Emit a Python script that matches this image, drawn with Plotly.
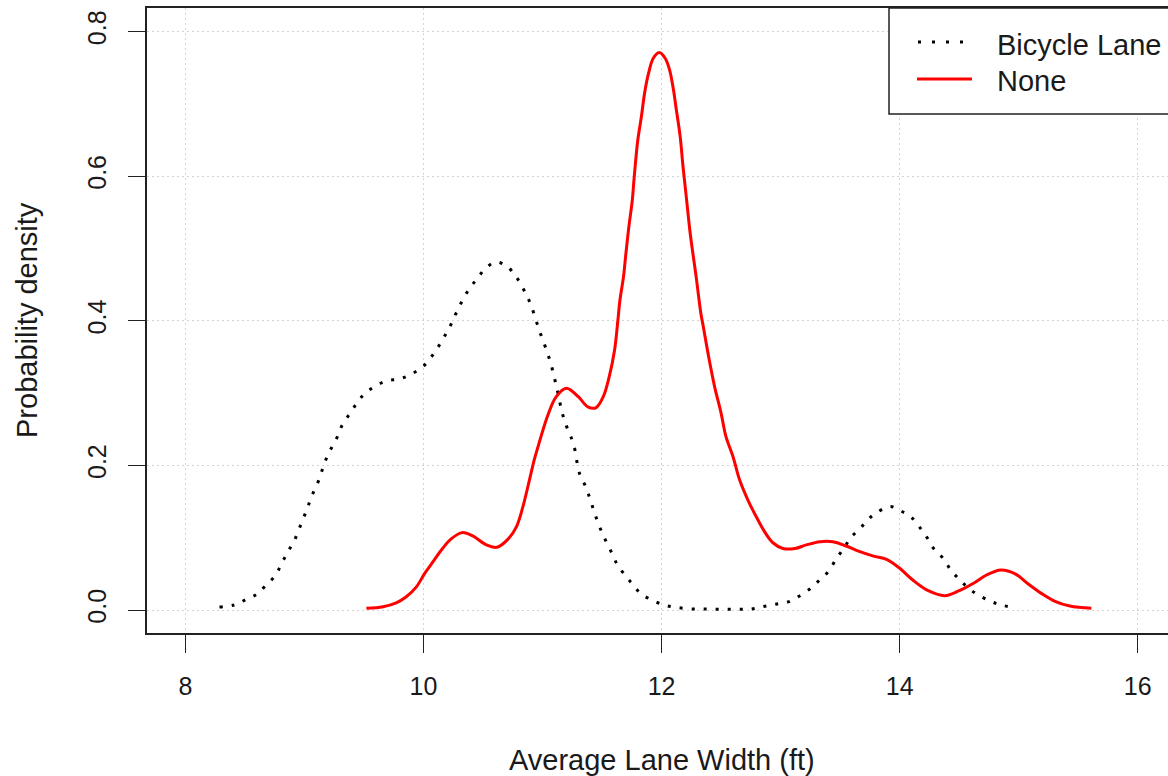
import plotly.graph_objects as go

# ---- data ----
bike_x = [8.286, 8.41, 8.515, 8.60, 8.67, 8.756, 8.81, 8.866, 8.92, 8.97, 9.02, 9.06, 9.115, 9.154,
          9.20, 9.266, 9.31, 9.378, 9.44, 9.504, 9.59, 9.69, 9.80, 9.905, 9.995, 10.065, 10.13,
          10.185, 10.233, 10.275, 10.33, 10.387, 10.45, 10.513, 10.605, 10.695, 10.773, 10.835,
          10.897, 10.97, 11.06, 11.12, 11.17, 11.213, 11.26, 11.31, 11.36, 11.40, 11.437, 11.479,
          11.53, 11.59, 11.633, 11.70, 11.76, 11.83, 11.92, 12.02, 12.12, 12.26, 12.375, 12.50,
          12.63, 12.75, 12.85, 12.96, 13.07, 13.17, 13.26, 13.33, 13.40, 13.47, 13.54, 13.59,
          13.67, 13.73, 13.81, 13.92, 14.01, 14.10, 14.17, 14.23, 14.29, 14.37, 14.43, 14.50,
          14.565, 14.65, 14.76, 14.85, 14.96]
bike_y = [0.004, 0.007, 0.015, 0.022, 0.033, 0.048, 0.065, 0.082, 0.098, 0.1185, 0.139, 0.157, 0.1775,
          0.196, 0.216, 0.236, 0.2535, 0.271, 0.286, 0.299, 0.309, 0.317, 0.3195, 0.327, 0.3365,
          0.350, 0.3656, 0.381, 0.3956, 0.411, 0.429, 0.445, 0.458, 0.471, 0.481, 0.476, 0.462,
          0.445, 0.424, 0.388, 0.346, 0.3066, 0.2697, 0.249, 0.2296, 0.189, 0.1715, 0.153, 0.134,
          0.115, 0.096, 0.076, 0.061, 0.047, 0.0346, 0.022, 0.0138, 0.0069, 0.0037, 0.0014, 0.0014,
          0.001, 0.001, 0.0014, 0.0046, 0.008, 0.0115, 0.0207, 0.031, 0.042, 0.053, 0.0715, 0.0876,
          0.1005, 0.113, 0.1245, 0.135, 0.143, 0.137, 0.128, 0.114, 0.100, 0.084, 0.0705, 0.055,
          0.0424, 0.032, 0.0217, 0.0124, 0.0069, 0.0037]

none_x = [9.52, 9.66, 9.77, 9.855, 9.94, 10.01, 10.08, 10.15, 10.23, 10.325, 10.414, 10.527, 10.616,
          10.71, 10.78, 10.835, 10.89, 10.93, 10.97, 11.045, 11.115, 11.20, 11.30, 11.38, 11.45,
          11.51, 11.56, 11.605, 11.633, 11.65, 11.68, 11.70, 11.725, 11.754, 11.77, 11.80, 11.83,
          11.857, 11.89, 11.93, 11.98, 12.03, 12.067, 12.10, 12.12, 12.156, 12.18, 12.21, 12.24,
          12.29, 12.33, 12.35, 12.40, 12.445, 12.50, 12.54, 12.60, 12.655, 12.725, 12.795, 12.866,
          12.935, 13.02, 13.12, 13.215, 13.33, 13.44, 13.55, 13.66, 13.78, 13.89, 14.0, 14.11,
          14.24, 14.38, 14.50, 14.62, 14.73, 14.85, 14.97, 15.08, 15.19, 15.30, 15.43, 15.61]
none_y = [0.0023, 0.0046, 0.010, 0.0184, 0.032, 0.0507, 0.0668, 0.083, 0.098, 0.107, 0.1024, 0.090,
          0.0867, 0.098, 0.115, 0.143, 0.180, 0.2075, 0.2305, 0.2697, 0.295, 0.3066, 0.295, 0.281,
          0.280, 0.295, 0.3227, 0.3596, 0.401, 0.4287, 0.461, 0.493, 0.530, 0.567, 0.599, 0.650,
          0.682, 0.7147, 0.742, 0.763, 0.771, 0.763, 0.747, 0.719, 0.696, 0.6546, 0.613, 0.567,
          0.521, 0.461, 0.410, 0.392, 0.346, 0.309, 0.272, 0.240, 0.212, 0.180, 0.152, 0.129, 0.108,
          0.093, 0.085, 0.085, 0.090, 0.0945, 0.0945, 0.0885, 0.081, 0.0745, 0.0700, 0.0577, 0.0415,
          0.0267, 0.0198, 0.0267, 0.037, 0.0484, 0.0553, 0.050, 0.036, 0.023, 0.0124, 0.0055, 0.0023]

x_ticks = [8, 10, 12, 14, 16]
y_ticks = [0.0, 0.2, 0.4, 0.6, 0.8]
y_tick_labels = ["0.0", "0.2", "0.4", "0.6", "0.8"]
series_names = ["Bicycle Lane", "None"]

FONT = "Liberation Sans, Arial, sans-serif"
INK = "#1a1a1a"

fig = go.Figure()
fig.add_trace(go.Scatter(x=bike_x, y=bike_y, mode="lines", name=series_names[0],
                         line=dict(color="black", width=3, dash="3px,9px", shape="spline"),
                         showlegend=False))
fig.add_trace(go.Scatter(x=none_x, y=none_y, mode="lines", name=series_names[1],
                         line=dict(color="red", width=3, shape="spline"),
                         showlegend=False))

# plot area geometry (pixels)
L, T, B = 147, 8, 143
W, H = 1168, 776
pw, ph = W - L, H - T - B

def px(xp):
    return (xp - L) / pw

def py(yp):
    return (H - B - yp) / ph

shapes = [
    # legend box
    dict(type="rect", xref="paper", yref="paper", x0=px(889), x1=px(1190), y0=py(114), y1=py(8),
         line=dict(color="#222", width=1.5), fillcolor="white", layer="above"),
    dict(type="line", xref="paper", yref="paper", x0=px(918), x1=px(970), y0=py(42), y1=py(42),
         line=dict(color="black", width=3, dash="3px,11px"), layer="above"),
    dict(type="line", xref="paper", yref="paper", x0=px(917), x1=px(972), y0=py(79), y1=py(79),
         line=dict(color="red", width=3), layer="above"),
]

annotations = [
    dict(text=series_names[0], xref="paper", yref="paper", x=px(995), y=py(45), xanchor="left",
         yanchor="middle", showarrow=False, font=dict(family=FONT, size=29, color=INK)),
    dict(text=series_names[1], xref="paper", yref="paper", x=px(995), y=py(81), xanchor="left",
         yanchor="middle", showarrow=False, font=dict(family=FONT, size=29, color=INK)),
    dict(text="Average Lane Width (ft)", xref="paper", yref="paper", x=px(662), y=py(760),
         xanchor="center", yanchor="middle", showarrow=False,
         font=dict(family=FONT, size=29, color=INK)),
    dict(text="Probability density", xref="paper", yref="paper", x=px(27), y=py(320),
         xanchor="center", yanchor="middle", showarrow=False, textangle=-90,
         font=dict(family=FONT, size=29, color=INK)),
]

fig.update_layout(
    width=W, height=H,
    margin=dict(l=L, r=0, t=T, b=B),
    paper_bgcolor="white", plot_bgcolor="white",
    font=dict(family=FONT, color=INK),
    showlegend=False,
    shapes=shapes,
    annotations=annotations,
    xaxis=dict(range=[7.677, 16.254], tickvals=x_ticks, ticktext=[str(v) for v in x_ticks],
               showgrid=True, gridcolor="#d3d3d3", griddash="2px,3px", gridwidth=1,
               zeroline=False, showline=True, linecolor="#222", linewidth=1.5, mirror=True,
               ticks="outside", ticklen=18, tickcolor="#222", tickwidth=1,
               ticklabelstandoff=12,
               tickfont=dict(family=FONT, size=25, color=INK)),
    yaxis=dict(range=[-0.0318, 0.8325], tickvals=y_ticks, ticktext=y_tick_labels,
               showgrid=True, gridcolor="#d3d3d3", griddash="2px,3px", gridwidth=1,
               zeroline=False, showline=True, linecolor="#222", linewidth=1.5, mirror=False,
               ticks="outside", ticklen=17, tickcolor="#222", tickwidth=1, tickangle=-90,
               ticklabelstandoff=12,
               tickfont=dict(family=FONT, size=25, color=INK)),
)

fig.write_html("out.html")
